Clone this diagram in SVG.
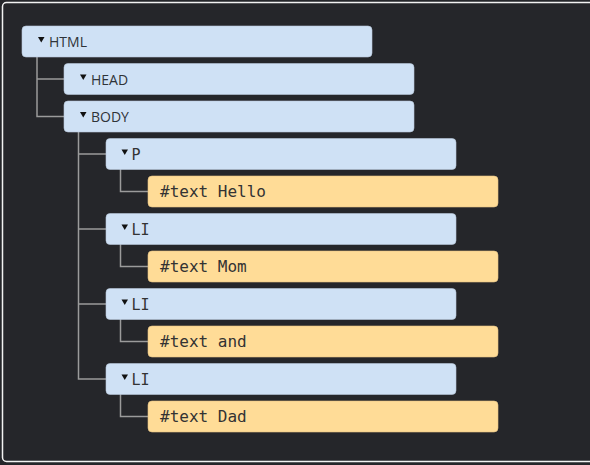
<svg xmlns="http://www.w3.org/2000/svg" width="590" height="465" viewBox="0 0 590 465">
<style>
.el rect{fill:#cfe1f5;stroke:#b8c8da;stroke-width:0.6}
.tx rect{fill:#ffdc97;stroke:#e6c585;stroke-width:0.6}
.sans{font-family:"Open Sans","Noto Sans","DejaVu Sans",sans-serif;font-size:14px;fill:#2f3338}
.mono{font-family:"DejaVu Sans Mono","Liberation Mono",monospace;fill:#333}
.tag{font-size:15px}
.txt{font-size:16px}
.tri{fill:#111}
#connectors path{fill:none;stroke:#9b9b9b;stroke-width:1.5}
</style>
<rect x="0" y="0" width="590" height="465" fill="#25262a"/>
<rect x="2.5" y="2.5" width="600" height="459" rx="4" fill="none" stroke="#f2f2f2" stroke-width="1.5"/>
<g id="connectors">
<path d="M37 57V116.5H64M37 79H64"/>
<path d="M78.5 132V379H106M78.5 154H106M78.5 229H106M78.5 304H106"/>
<path d="M120.5 169V191.5H148"/>
<path d="M120.5 244V266.5H148"/>
<path d="M120.5 319V341.5H148"/>
<path d="M120.5 394V416.5H148"/>
</g>
<g id="html" class="el"><rect x="22" y="26" width="350" height="31" rx="4"/><polygon class="tri" points="38,37 44.5,37 41.25,42.5"/><text class="sans" x="49" y="47">HTML</text></g>
<g id="head" class="el"><rect x="64" y="63.5" width="350" height="31" rx="4"/><polygon class="tri" points="80,74.5 86.5,74.5 83.25,80"/><text class="sans" x="91" y="84.5">HEAD</text></g>
<g id="body" class="el"><rect x="64" y="101" width="350" height="31" rx="4"/><polygon class="tri" points="80,112 86.5,112 83.25,117.5"/><text class="sans" x="91" y="122">BODY</text></g>
<g id="p" class="el"><rect x="106" y="138.5" width="350" height="31" rx="4"/><polygon class="tri" points="121.5,149.5 128,149.5 124.75,155"/><text class="mono tag" x="131.5" y="159.5">P</text></g>
<g id="text-hello" class="tx"><rect x="148" y="176" width="350" height="31" rx="4"/><text class="mono txt" x="160" y="197">#text Hello</text></g>
<g id="li1" class="el"><rect x="106" y="213.5" width="350" height="31" rx="4"/><polygon class="tri" points="121.5,224.5 128,224.5 124.75,230"/><text class="mono tag" x="131.5" y="234.5">LI</text></g>
<g id="text-mom" class="tx"><rect x="148" y="251" width="350" height="31" rx="4"/><text class="mono txt" x="160" y="272">#text Mom</text></g>
<g id="li2" class="el"><rect x="106" y="288.5" width="350" height="31" rx="4"/><polygon class="tri" points="121.5,299.5 128,299.5 124.75,305"/><text class="mono tag" x="131.5" y="309.5">LI</text></g>
<g id="text-and" class="tx"><rect x="148" y="326" width="350" height="31" rx="4"/><text class="mono txt" x="160" y="347">#text and</text></g>
<g id="li3" class="el"><rect x="106" y="363.5" width="350" height="31" rx="4"/><polygon class="tri" points="121.5,374.5 128,374.5 124.75,380"/><text class="mono tag" x="131.5" y="384.5">LI</text></g>
<g id="text-dad" class="tx"><rect x="148" y="401" width="350" height="31" rx="4"/><text class="mono txt" x="160" y="422">#text Dad</text></g>
</svg>
